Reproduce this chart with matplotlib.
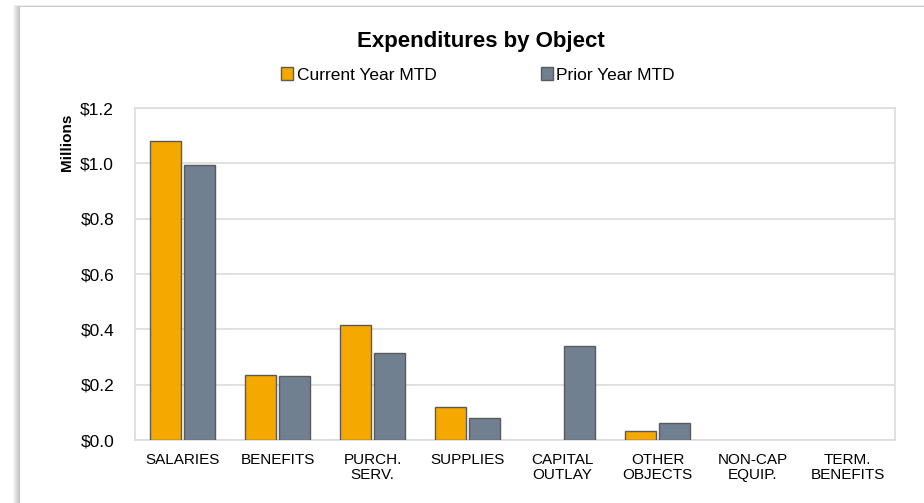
import numpy as np
import matplotlib
matplotlib.use("Agg")
import matplotlib.pyplot as plt
from matplotlib.patches import Rectangle
from matplotlib.ticker import FuncFormatter, MultipleLocator

plt.rcParams['font.family'] = ['Liberation Sans', 'DejaVu Sans']

categories = ["SALARIES", "BENEFITS", "PURCH.\nSERV.", "SUPPLIES", "CAPITAL\nOUTLAY",
              "OTHER\nOBJECTS", "NON-CAP\nEQUIP.", "TERM.\nBENEFITS"]
current_mtd = [1.081, 0.236, 0.415, 0.121, 0.0, 0.031, 0.0, 0.0]
prior_mtd = [0.994, 0.231, 0.314, 0.079, 0.339, 0.063, 0.0, 0.0]

ORANGE = "#F5A800"
SLATE = "#708090"
EDGE = "#5a5a5a"
GRID = "#dcdcdc"

W, H = 924, 503
fig = plt.figure(figsize=(W / 100, H / 100), dpi=100)

# card with soft shadow on left/top
for i in range(7):
    fig.patches.append(Rectangle(((13 + i) / W, 0), 1, (H - 5 - i * 2 / 7) / H,
                                 transform=fig.transFigure, facecolor="#000000",
                                 alpha=0.035, edgecolor="none", zorder=0))
fig.patches.append(Rectangle((20 / W, 0), 1, (H - 7) / H, transform=fig.transFigure,
                             facecolor="white", edgecolor="none", zorder=0.5))

ax = fig.add_axes([135 / W, (H - 440) / H, 760 / W, 332 / H])
ax.set_zorder(1)
ax.patch.set_alpha(0)

x = np.arange(len(categories))
bw = 0.323
off = 0.18
cur_idx = [i for i, v in enumerate(current_mtd) if v > 0]
pri_idx = [i for i, v in enumerate(prior_mtd) if v > 0]
ax.bar(x[cur_idx] - off, [current_mtd[i] for i in cur_idx], bw, color=ORANGE,
       edgecolor=EDGE, linewidth=1.0, zorder=3, label="Current Year MTD")
ax.bar(x[pri_idx] + off, [prior_mtd[i] for i in pri_idx], bw, color=SLATE,
       edgecolor=EDGE, linewidth=1.0, zorder=3, label="Prior Year MTD")

ax.set_xlim(-0.5, len(categories) - 0.5)
ax.set_ylim(0, 1.2)
ax.yaxis.set_major_locator(MultipleLocator(0.2))
ax.yaxis.set_major_formatter(FuncFormatter(lambda v, p: f"${v:.1f}"))
ax.set_xticks(x)
ax.set_xticklabels(categories, fontsize=11, linespacing=1.15)
ax.tick_params(axis="x", length=0, pad=9, colors="black")
ax.tick_params(axis="y", length=0, pad=15, labelsize=12.5, colors="black")
ax.grid(axis="y", color=GRID, linewidth=1.2, zorder=0)
for s in ax.spines.values():
    s.set_color(GRID)
    s.set_linewidth(1.2)

fig.text(481 / W, 1 - 41 / H, "Expenditures by Object", ha="center", va="center",
         fontsize=16, fontweight="bold")
fig.text(67 / W, 1 - 142 / H, "Millions", rotation=90, ha="center", va="center",
         fontsize=11, fontweight="bold")

handles, labels = ax.get_legend_handles_labels()
leg = fig.legend(handles, labels, loc="center", bbox_to_anchor=(478 / W, 1 - 75 / H),
                 ncol=2, frameon=False, fontsize=12.5, handlelength=0.7, handleheight=0.7,
                 handletextpad=0.2, columnspacing=6.0, borderaxespad=0)

fig.savefig("out.png", dpi=100)
